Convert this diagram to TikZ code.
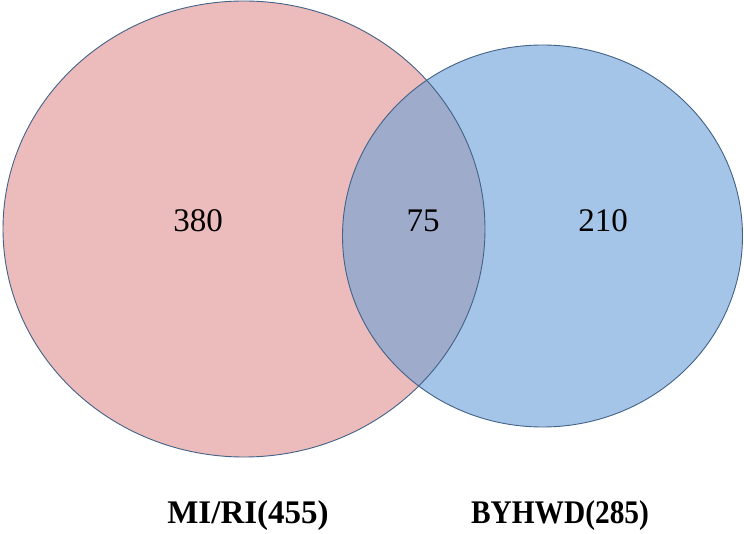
\documentclass[tikz,border=0pt]{standalone}
\usepackage{fontspec}
\setmainfont{Liberation Serif}
\definecolor{pinkfill}{RGB}{236,187,188}
\definecolor{bluefill}{RGB}{164,197,231}
\definecolor{overlapfill}{RGB}{158,171,203}
\definecolor{edgeblue}{RGB}{66,98,135}
\begin{document}
\begin{tikzpicture}[x=1pt,y=1pt,
  setedge/.style={draw=edgeblue, line width=0.9pt},
  count/.style={font=\fontsize{33}{36}\selectfont, anchor=base, inner sep=0pt},
  setlabel/.style={font=\fontsize{33}{36}\selectfont\bfseries, anchor=base, inner sep=0pt}]
\useasboundingbox (0,0) rectangle (744,-534);
\coordinate (cl) at (244,-229);
\coordinate (cr) at (542.5,-236);
\fill[pinkfill] (cl) ellipse [x radius=241, y radius=228];
\fill[bluefill] (cr) ellipse [x radius=200, y radius=191];
\begin{scope}
  \clip (cl) ellipse [x radius=241, y radius=228];
  \fill[overlapfill] (cr) ellipse [x radius=200, y radius=191];
\end{scope}
\draw[setedge] (cl) ellipse [x radius=241, y radius=228];
\draw[setedge] (cr) ellipse [x radius=200, y radius=191];
\node[count] (a) at (198,-232) {380};
\node[count] (ab) at (423,-232) {75};
\node[count] (b) at (603,-232) {210};
\node[setlabel] (la) at (248,-523) {MI/RI(455)};
\node[setlabel] (lb) at (560,-523) {\scalebox{0.89}[1]{BYHWD(285)}};
\end{tikzpicture}
\end{document}
